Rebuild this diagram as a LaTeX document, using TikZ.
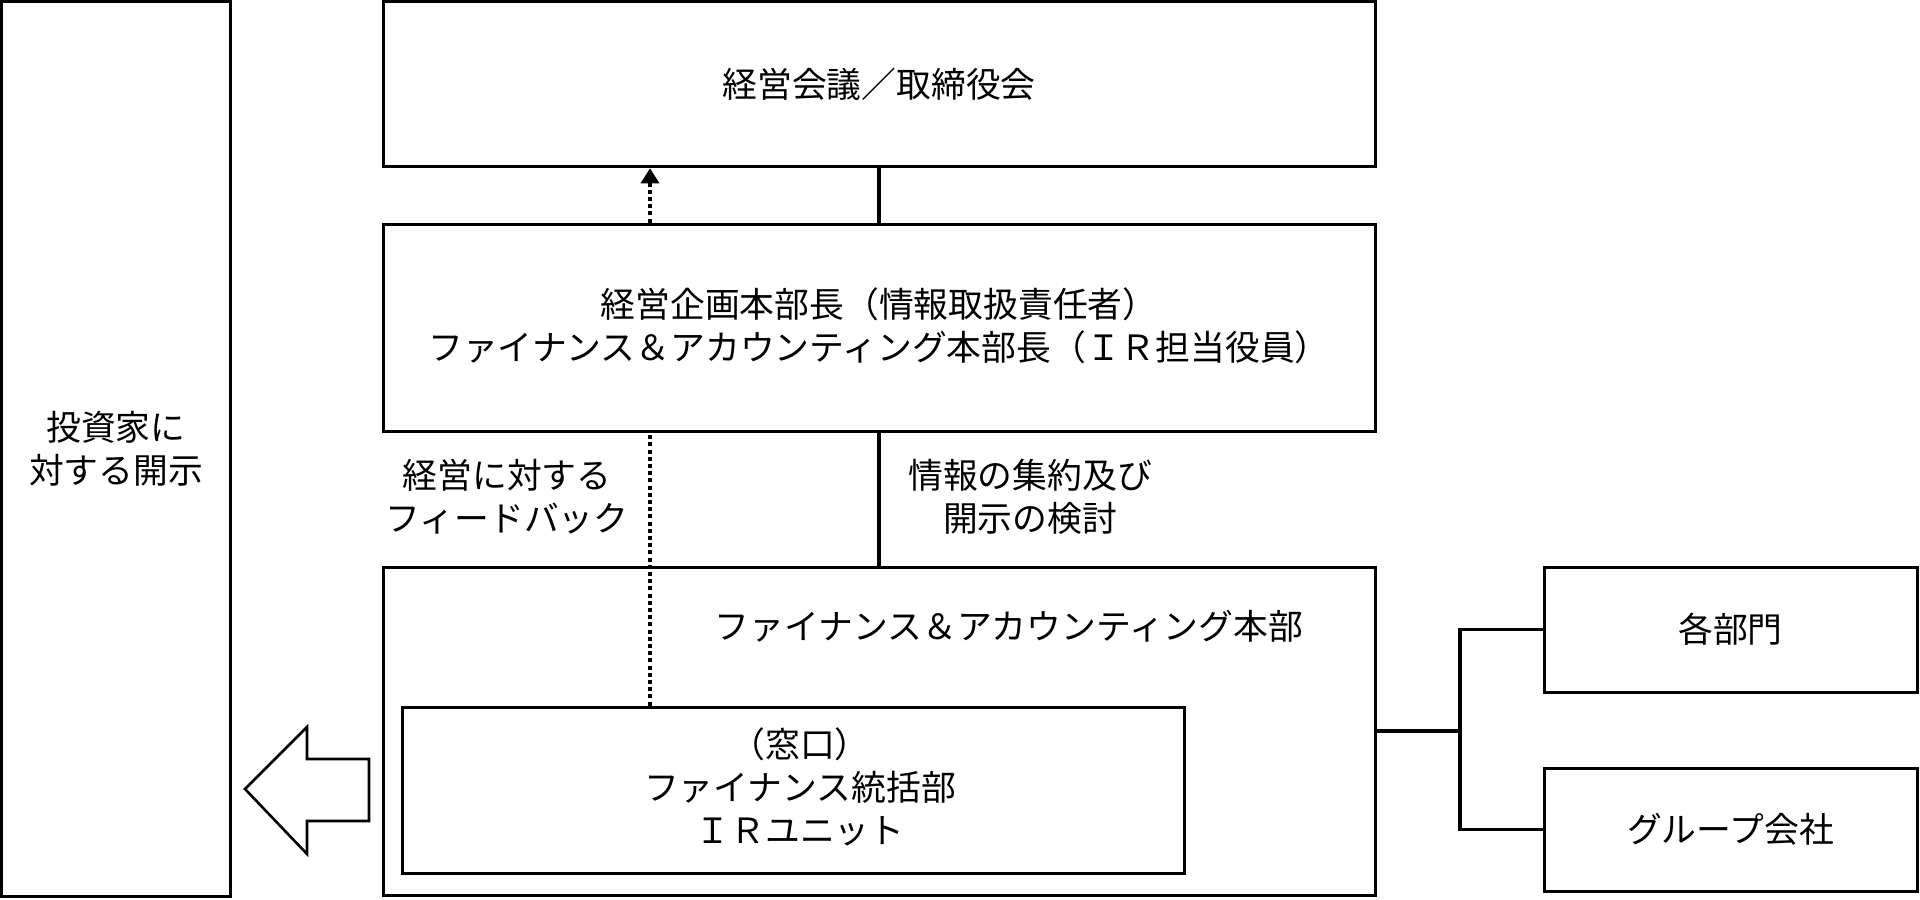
\documentclass[tikz,border=0pt]{standalone}
\usepackage{fontspec}
\setmainfont{Noto Sans CJK JP}
\usetikzlibrary{arrows.meta}
\begin{document}
\begin{tikzpicture}[x=0.5pt,y=-0.5pt,
  box/.style={draw=black,line width=1.5pt,fill=white,inner sep=0pt,minimum width=#1},
  lbl/.style={align=center,inner sep=0pt,font=\fontsize{17.4}{21.5}\selectfont},
  conn/.style={draw=black,line width=1.6pt},
  dots/.style={draw=black,line width=1.6pt,dash pattern=on 2pt off 1.6pt}]
\useasboundingbox (0,0) rectangle (1920,899);
\fill[white] (0,0) rectangle (1920,899);
% boxes
\node[box=114.5pt,minimum height=447.5pt] (inv) at (116,449) {};
\node[box=496pt,minimum height=82.75pt] (top) at (879,84) {};
\node[box=496pt,minimum height=103.5pt] (mid) at (879,327.5) {};
\node[box=496pt,minimum height=164pt] (big) at (879,731) {};
\node[box=391pt,minimum height=83pt] (inner) at (793,790) {};
\node[box=186.5pt,minimum height=62.5pt] (b1) at (1730.5,629.5) {};
\node[box=186.5pt,minimum height=61.5pt] (b2) at (1730.5,829.5) {};
% texts
\node[lbl] (tt) at (879,84) {経営会議／取締役会};
\node[lbl] (mt) at (879,326) {経営企画本部長（情報取扱責任者）\\ファイナンス＆アカウンティング本部長（ＩＲ担当役員）};
\node[lbl] (it) at (116,449) {投資家に\\対する開示};
\node[lbl] (fb) at (507,497) {経営に対する\\フィードバック};
\node[lbl] (ia) at (1030,497) {情報の集約及び\\開示の検討};
\node[lbl] (bt) at (1009,626) {ファイナンス＆アカウンティング本部};
\node[lbl] (nt) at (800,787) {（窓口）\\ファイナンス統括部\\ＩＲユニット};
\node[lbl] (t1) at (1730.5,629.5) {各部門};
\node[lbl] (t2) at (1730.5,829.5) {グループ会社};
% vertical connectors
\draw[conn] (mid.north -| 879,0) -- (top.south -| 879,0);
\draw[conn] (mid.south -| 879,0) -- (big.north -| 879,0);
\draw[dots] (inner.north -| 650,0) -- (mid.south -| 650,0);
\draw[dots,-{Triangle[width=9pt,length=7.5pt]}] (mid.north -| 650,0) -- (top.south -| 650,0);
% right connectors
\coordinate (j) at (1460,731);
\draw[conn] (big.east) -- (j);
\draw[conn] (b1.west) -| (j);
\draw[conn] (b2.west) -| (j);
% block arrow
\draw[line width=1.3pt,line join=miter,fill=white] (245,789) -- (307,727) -- (307,759) -- (369,759) -- (369,821) -- (307,821) -- (307,854) -- cycle;
\end{tikzpicture}
\end{document}
